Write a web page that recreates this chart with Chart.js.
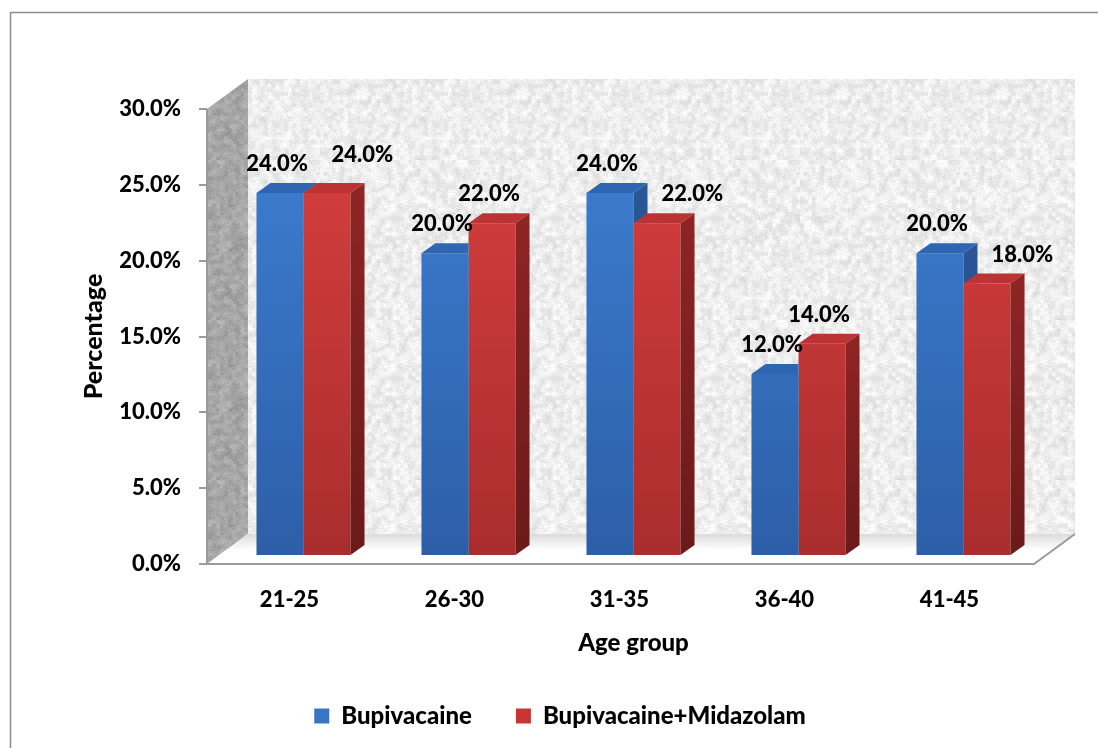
<!DOCTYPE html>
<html>
<head>
<meta charset="utf-8">
<title>Age group</title>
<script src="https://cdn.jsdelivr.net/npm/chart.js@4.4.1/dist/chart.umd.min.js"></script>
<style>
  html, body { margin: 0; padding: 0; background: #fff; }
  #wrap { width: 1098px; height: 748px; position: relative; }
</style>
</head>
<body>
<div id="wrap"><canvas id="chart" width="1098" height="748"></canvas></div>
<script>
// data
const ageGroups = ['21-25', '26-30', '31-35', '36-40', '41-45'];
const bupivacaine = [24, 20, 24, 12, 20];
const bupiMidazolam = [24, 22, 22, 14, 18];
const percentTicks = [0, 5, 10, 15, 20, 25, 30];

// colours
const BLUE = { front: ['#3e80d4', '#2c5ea6'], top: '#2f66b2', side: ['#2a5696', '#1f4175'], key: '#3a74c4' };
const RED = { front: ['#da4040', '#a82c2c'], top: '#bd3333', side: ['#8e2424', '#6a1a1a'], key: '#c83434' };

// 3d depth of bars and of the walls
const BAR_DX = 14, BAR_DY = -10;
const WALL_DX = 41, WALL_DY = -30;

const FONT = 'Lato, "Open Sans", sans-serif';
const WEIGHT = 900;
Chart.defaults.font.family = FONT;
Chart.defaults.font.weight = WEIGHT;
Chart.defaults.color = '#000';

// deterministic speckle texture for the walls
function hash(x, y, s) {
  let h = (x * 374761393 + y * 668265263 + s * 982451653) | 0;
  h = Math.imul(h ^ (h >>> 13), 1274126177);
  h ^= h >>> 16;
  return (h >>> 0) / 4294967296;
}

function makeTexture(size, base, spread, seed) {
  const cell = size / 4;
  const small = document.createElement('canvas');
  small.width = small.height = cell;
  const sg = small.getContext('2d');
  const img = sg.createImageData(cell, cell);
  for (let y = 0; y < cell; y++) {
    for (let x = 0; x < cell; x++) {
      const v = base - hash(x, y, seed) * spread;
      const k = (y * cell + x) * 4;
      img.data[k] = img.data[k + 1] = img.data[k + 2] = v;
      img.data[k + 3] = 255;
    }
  }
  sg.putImageData(img, 0, 0);

  const c = document.createElement('canvas');
  c.width = c.height = size;
  const g = c.getContext('2d');
  g.imageSmoothingEnabled = true;
  g.drawImage(small, 0, 0, size, size);
  const fine = g.getImageData(0, 0, size, size);
  for (let y = 0; y < size; y++) {
    for (let x = 0; x < size; x++) {
      const k = (y * size + x) * 4;
      const d = (hash(x, y, seed + 7) - 0.5) * spread * 0.6;
      for (let j = 0; j < 3; j++) fine.data[k + j] = Math.max(0, Math.min(255, fine.data[k + j] + d));
    }
  }
  g.putImageData(fine, 0, 0);
  return c;
}

const wallTex = makeTexture(160, 255, 34, 3);
const sideTex = makeTexture(160, 184, 34, 11);

function frontFill(col) {
  return (ctx) => {
    const ca = ctx.chart.chartArea;
    if (!ca) return col.front[0];
    const g = ctx.chart.ctx.createLinearGradient(0, ca.top, 0, ca.bottom);
    g.addColorStop(0, col.front[0]);
    g.addColorStop(1, col.front[1]);
    return g;
  };
}

function drawCap(c, bar, col) {
  const l = bar.x - bar.width / 2, r = bar.x + bar.width / 2, t = bar.y, b = bar.base;
  c.beginPath();
  c.moveTo(l, t);
  c.lineTo(l + BAR_DX, t + BAR_DY);
  c.lineTo(r + BAR_DX, t + BAR_DY);
  c.lineTo(r, t);
  c.closePath();
  c.fillStyle = col.top;
  c.fill();

  c.beginPath();
  c.moveTo(r, t);
  c.lineTo(r + BAR_DX, t + BAR_DY);
  c.lineTo(r + BAR_DX, b + BAR_DY);
  c.lineTo(r, b);
  c.closePath();
  const g = c.createLinearGradient(0, t, 0, b);
  g.addColorStop(0, col.side[0]);
  g.addColorStop(1, col.side[1]);
  c.fillStyle = g;
  c.fill();
}

const scene3d = {
  id: 'scene3d',
  beforeDraw(chart) {
    const c = chart.ctx;
    c.save();
    c.strokeStyle = '#8c8c8c';
    c.lineWidth = 1.5;
    c.strokeRect(10.5, 12.5, chart.width + 40, chart.height + 40);
    c.restore();
  },
  beforeDatasetsDraw(chart) {
    const c = chart.ctx, ca = chart.chartArea;
    const ys = chart.scales.y;
    const fl = ca.left - 14, fr = ca.right - 12, fb = ca.bottom, ft = ca.top;
    const bl = fl + WALL_DX, br = fr + WALL_DX, bb = fb + WALL_DY, bt = ft + WALL_DY;
    c.save();

    // back wall
    c.fillStyle = c.createPattern(wallTex, 'repeat');
    c.fillRect(bl, bt, br - bl, bb - bt);

    // side wall
    c.beginPath();
    c.moveTo(fl, ft); c.lineTo(bl, bt); c.lineTo(bl, bb); c.lineTo(fl, fb);
    c.closePath();
    c.fillStyle = c.createPattern(sideTex, 'repeat');
    c.fill();

    // floor with a soft shadow along the back
    c.beginPath();
    c.moveTo(fl, fb); c.lineTo(bl, bb); c.lineTo(br, bb); c.lineTo(fr, fb);
    c.closePath();
    c.fillStyle = '#fff';
    c.fill();
    const sh = c.createLinearGradient(0, bb, 0, bb + 16);
    sh.addColorStop(0, 'rgba(0,0,0,0.14)');
    sh.addColorStop(1, 'rgba(0,0,0,0)');
    c.fillStyle = sh;
    c.fill();

    // floor edges
    c.strokeStyle = '#9a9a9a';
    c.lineWidth = 2;
    c.beginPath();
    c.moveTo(fl, fb); c.lineTo(fr, fb); c.lineTo(br, bb);
    c.stroke();

    // value axis line and tick marks
    c.beginPath();
    c.moveTo(fl, ft); c.lineTo(fl, fb);
    ys.ticks.forEach(t => {
      const y = Math.round(ys.getPixelForValue(t.value));
      c.moveTo(fl - 8, y); c.lineTo(fl, y);
    });
    c.stroke();
    c.restore();
  },
  afterDatasetsDraw(chart) {
    const c = chart.ctx;
    const m0 = chart.getDatasetMeta(0), m1 = chart.getDatasetMeta(1);
    const keys = ['x', 'y', 'base', 'width'];
    c.save();
    ageGroups.forEach((_, i) => {
      const a = m0.data[i].getProps(keys, true);
      const b = m1.data[i].getProps(keys, true);
      // blue side stays hidden behind the red front face
      c.save();
      c.beginPath();
      c.rect(0, 0, chart.width, chart.height);
      c.rect(b.x - b.width / 2, b.y, b.width, b.base - b.y);
      c.clip('evenodd');
      drawCap(c, a, BLUE);
      c.restore();
      drawCap(c, b, RED);
    });

    // value labels
    c.font = WEIGHT + ' 22px ' + FONT;
    c.fillStyle = '#000';
    c.textAlign = 'center';
    c.textBaseline = 'middle';
    const h = 18;
    ageGroups.forEach((_, i) => {
      const a = m0.data[i].getProps(keys, true);
      const b = m1.data[i].getProps(keys, true);
      const ta = bupivacaine[i].toFixed(1) + '%';
      const tb = bupiMidazolam[i].toFixed(1) + '%';
      const wa = c.measureText(ta).width, wb = c.measureText(tb).width;
      const ax = a.x - 3, ay = a.y - 29;
      let bx = b.x - 3;
      let by = b.y - 29;
      // push the red label aside when it would sit on the blue label or bar
      const hitsLabel = Math.abs(by - ay) < h && Math.abs(bx - ax) < (wa + wb) / 2;
      const blueRight = a.x + a.width / 2 + BAR_DX;
      const hitsBar = by + h / 2 > a.y + BAR_DY && bx - wb / 2 < blueRight;
      if (hitsLabel || hitsBar) {
        bx = Math.max(ax + wa / 2, blueRight) + 14 + wb / 2;
        if (hitsLabel) by -= 9;
      }
      c.fillText(ta, ax, ay);
      c.fillText(tb, bx, by);
    });
    c.restore();
  }
};

new Chart(document.getElementById('chart'), {
  type: 'bar',
  data: {
    labels: ageGroups,
    datasets: [
      {
        label: 'Bupivacaine',
        data: bupivacaine,
        yAxisID: 'yBar',
        backgroundColor: frontFill(BLUE),
        borderWidth: 0,
        categoryPercentage: 0.57,
        barPercentage: 1
      },
      {
        label: 'Bupivacaine+Midazolam',
        data: bupiMidazolam,
        yAxisID: 'yBar',
        backgroundColor: frontFill(RED),
        borderWidth: 0,
        categoryPercentage: 0.57,
        barPercentage: 1
      }
    ]
  },
  options: {
    responsive: false,
    animation: false,
    devicePixelRatio: 1,
    layout: { padding: { top: 109, right: 52, left: 74, bottom: 10 } },
    scales: {
      x: {
        grid: { display: false },
        border: { display: false },
        ticks: { padding: 15, labelOffset: -14, font: { size: 22, weight: WEIGHT } },
        title: { display: true, text: 'Age group', font: { size: 24, weight: WEIGHT }, padding: { top: 0, bottom: 2 } },
        afterFit: s => { s.height = 96; }
      },
      y: {
        position: 'left',
        min: 0,
        max: 30,
        grid: { display: false },
        border: { display: false },
        afterBuildTicks: s => { s.ticks = percentTicks.map(v => ({ value: v })); },
        ticks: { padding: 32, font: { size: 22, weight: WEIGHT }, callback: v => v.toFixed(1) + '%' },
        title: { display: true, text: 'Percentage', font: { size: 25, weight: WEIGHT }, padding: { top: 5, bottom: 0 } },
        afterFit: s => { s.width = 147; }
      },
      // bars stand on the floor a little behind the front axis
      yBar: { display: false, min: -0.6, max: 29.57 }
    },
    plugins: {
      tooltip: { enabled: false },
      legend: {
        position: 'bottom',
        labels: {
          boxWidth: 15,
          boxHeight: 15,
          padding: 44,
          font: { size: 24, weight: WEIGHT },
          generateLabels: chart => chart.data.datasets.map((ds, i) => ({
            text: ds.label,
            fillStyle: i === 0 ? BLUE.key : RED.key,
            strokeStyle: i === 0 ? BLUE.key : RED.key,
            lineWidth: 0,
            datasetIndex: i
          }))
        }
      }
    }
  },
  plugins: [scene3d]
});
</script>
</body>
</html>
